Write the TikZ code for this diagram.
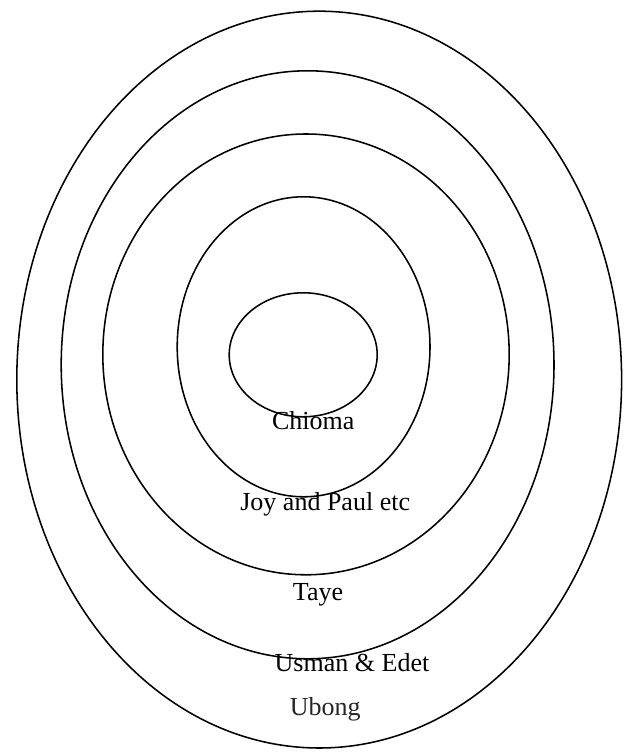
\documentclass[tikz,border=0pt]{standalone}
\usepackage{fontspec}
\setmainfont{Liberation Serif}
\begin{document}
\begin{tikzpicture}[scale=1.0, font=\fontsize{18.5}{22}\selectfont]
    \useasboundingbox (0,0) rectangle (15.725,18.8);

    \draw[line width=1.1pt] (7.98,9.31) ellipse [x radius=7.56, y radius=9.21];
    \draw[line width=1.1pt] (7.69,9.68) ellipse [x radius=6.16, y radius=7.35];
    \draw[line width=1.1pt] (7.65,9.94) ellipse [x radius=5.08, y radius=5.51];
    \draw[line width=1.1pt] (7.59,10.13) ellipse [x radius=3.16, y radius=3.75];
    \draw[line width=1.1pt] (7.58,9.93) ellipse [x radius=1.85, y radius=1.55];

    \node[anchor=base] (chioma) at (7.83,8.05) {Chioma};
    \node[anchor=base] (joy) at (8.13,6.03) {Joy and Paul etc};
    \node[anchor=base] (taye) at (7.95,3.78) {Taye};
    \node[anchor=base] (usman) at (8.8,2.0) {Usman \& Edet};
    \node[anchor=base, text=black!85] (ubong) at (8.13,0.9) {Ubong};
\end{tikzpicture}
\end{document}
